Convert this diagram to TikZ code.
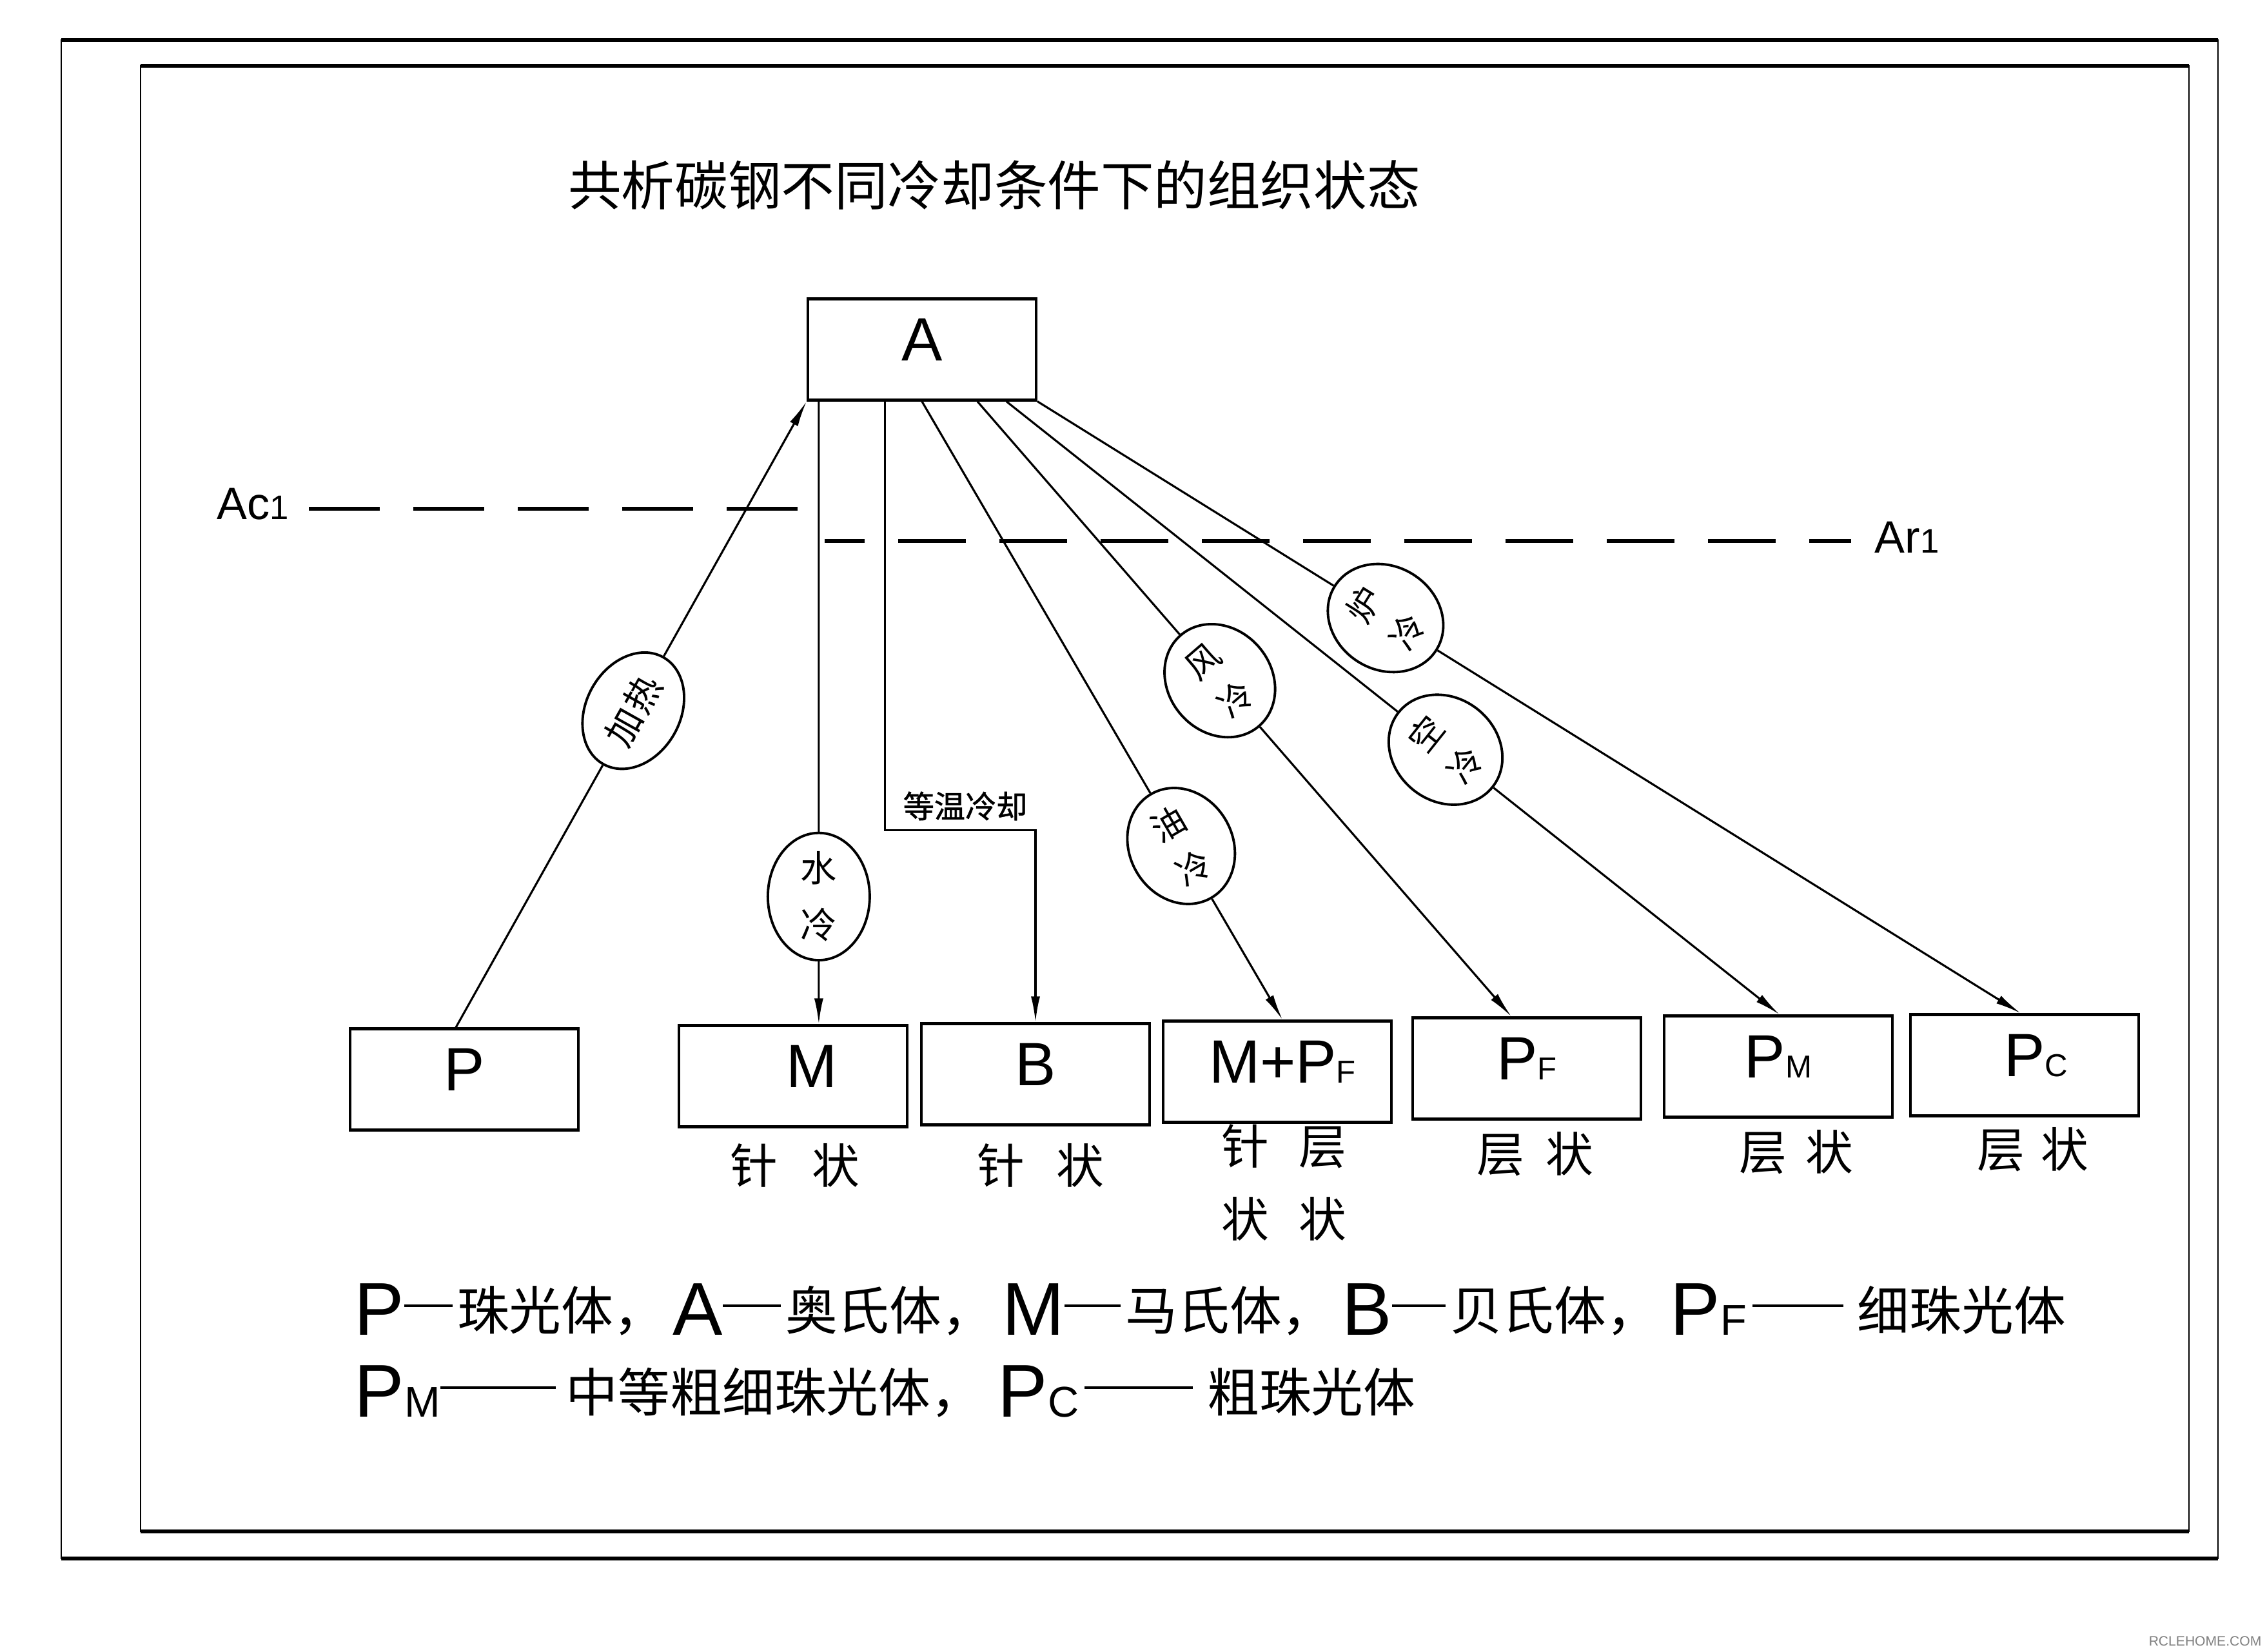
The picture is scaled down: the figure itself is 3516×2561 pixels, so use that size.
\documentclass[tikz,border=0pt]{standalone}
\usepackage{fontspec}
\usepackage{graphicx}
\setmainfont{Liberation Sans}
\newfontfamily\cjk{Noto Sans CJK SC}
\newfontfamily\cjkb[FakeBold=1.2]{Noto Sans CJK SC}
\usetikzlibrary{shapes.geometric,arrows.meta,calc}
\newcommand{\subsc}[1]{{\fontsize{14}{14}\selectfont #1}}
\newcommand{\lgL}{\fontsize{33}{36}\selectfont}
\newcommand{\lgC}{\cjk\fontsize{23}{26}\selectfont}
\newcommand{\lgS}{\fontsize{19}{20}\selectfont}
\newcommand{\rc}[1]{\rotatebox{90}{#1}}
\newcommand{\dsh}[1]{\rule[4.3mm]{#1}{0.4mm}}
\newcommand{\cj}[1]{\raisebox{0.8mm}{\lgC #1}}
\begin{document}
\begin{tikzpicture}[x=0.1mm,y=-0.1mm,
  box/.style={draw,line width=1.2pt,minimum width=35.4mm,minimum height=15.7mm,inner sep=0pt,text depth=3mm,font=\fontsize{27}{30}\selectfont},
  ln/.style={line width=0.9pt},
  arr/.style={ln,-{Latex[length=4mm,width=1.4mm]}},
  elp/.style={ellipse,draw,fill=white,line width=1.1pt,inner sep=0pt,font=\cjk\fontsize{16}{25}\selectfont},
  delp/.style={elp,minimum width=18.6mm,minimum height=16mm,font=\cjk\fontsize{15}{18}\selectfont},
  sublbl/.style={font=\cjk\fontsize{21}{24}\selectfont,inner sep=0pt},
  lgnd/.style={anchor=base west,inner sep=0pt},
  dashln/.style={line width=1.5pt}
]
\useasboundingbox (0,0) rectangle (3516,2561);
\fill[white] (0,0) rectangle (3516,2561);

% frames
\draw[line width=0.7pt] (95,62) rectangle (3440,2417);
\draw[line width=1.7pt] (95,62) -- (3440,62) (95,2417) -- (3440,2417);
\draw[line width=0.7pt] (218,102) rectangle (3395,2375);
\draw[line width=1.7pt] (218,102) -- (3395,102) (218,2375) -- (3395,2375);

% title
\node[font=\cjk\fontsize{23.5}{28}\selectfont] (title) at (1542,287) {共析碳钢不同冷却条件下的组织状态};

% boxes
\node[box] (A) at (1430,542) {A};
\node[box] (P) at (720,1674) {P};
\node[box] (M) at (1230,1669) {\hspace{5.8mm}M};
\node[box] (B) at (1606,1666) {B};
\node[box] (MPF) at (1981,1662) {\hspace{1.6mm}M+P\subsc{F}};
\node[box] (PF) at (2368,1657) {P\subsc{F}\hspace{2.6mm}};
\node[box] (PM) at (2758,1654) {P\subsc{M}};
\node[box] (PC) at (3140,1652) {\hspace{3.6mm}P\subsc{C}};

% critical temperature lines
\node[lgnd] (lAc) at (336,805) {\fontsize{20}{22}\selectfont Ac\fontsize{15}{16}\selectfont 1};
\node[lgnd] (lAr) at (2907,857) {\fontsize{20}{22}\selectfont Ar\fontsize{15}{16}\selectfont 1};
\coordinate (ac1a) at (479,789);
\coordinate (ac1b) at (1243,789);
\coordinate (ar1a) at (1279,839);
\coordinate (ar1b) at (2871,839);
\draw[dashln,dash pattern=on 11mm off 5.2mm] (ac1a) -- (ac1b);
\draw[dashln,dash pattern=on 10.5mm off 5.2mm,dash phase=4.3mm] (ar1a) -- (ar1b);

% start / end points
\coordinate (aJR) at (A.south west);
\coordinate (aSL) at ($(A.south west)+(19,0)$);
\coordinate (aDW) at ($(A.south west)+(122,0)$);
\coordinate (aYou) at ($(A.south west)+(179,0)$);
\coordinate (aFeng) at ($(A.south west)+(265,0)$);
\coordinate (aKong) at ($(A.south west)+(310,0)$);
\coordinate (aLu) at (A.south east);
\coordinate (pJR) at ($(P.north)+(-13,0)$);
\coordinate (tM) at (M.north -| aSL);
\coordinate (tMPF) at ($(MPF.north)+(8,0)$);
\coordinate (tPF) at ($(PF.north)+(-24,0)$);
\coordinate (tPM) at ($(PM.north)+(2,0)$);
\coordinate (tPC) at ($(PC.north)+(-6,0)$);

% ellipses
\node[elp,minimum width=19mm,minimum height=14.6mm,rotate=60.7] (eJR) at ($(pJR)!0.506!(aJR)$) {加\hspace{0.3mm}热};
\node[elp,minimum width=15.8mm,minimum height=18.6mm,align=center] (eSL) at ($(aSL)!0.795!(tM)$) {水\\冷};
\node[delp,rotate=-59.95] (eYou) at ($(aYou)!0.719!(tMPF)$) {\rc{油}\hspace{3mm}\rc{冷}};
\node[delp,rotate=-49.23] (eFeng) at ($(aFeng)!0.454!(tPF)$) {\rc{风}\hspace{3mm}\rc{冷}};
\node[delp,rotate=-38.58] (eKong) at ($(aKong)!0.568!(tPM)$) {\rc{空}\hspace{3mm}\rc{冷}};
\node[delp,rotate=-31.97] (eLu) at ($(aLu)!0.354!(tPC)$) {\rc{炉}\hspace{3mm}\rc{冷}};

% connectors
\draw[ln] (pJR) -- (eJR);
\draw[arr] (eJR) -- (aJR);
\draw[ln] (aSL) -- (eSL);
\draw[arr] (eSL) -- (tM);
\draw[arr] (aDW) |- ($(B.north)+(0,-298)$) -- (B.north);
\draw[ln] (aYou) -- (eYou);
\draw[arr] (eYou) -- (tMPF);
\draw[ln] (aFeng) -- (eFeng);
\draw[arr] (eFeng) -- (tPF);
\draw[ln] (aKong) -- (eKong);
\draw[arr] (eKong) -- (tPM);
\draw[ln] (aLu) -- (eLu);
\draw[arr] (eLu) -- (tPC);

\node[font=\cjkb\fontsize{13.7}{16}\selectfont,inner sep=0pt] (dwl) at (1497,1250) {等温冷却};

% sub labels
\node[sublbl] (sM) at (1233,1807) {针\hspace{5.3mm}状};
\node[sublbl] (sB) at (1614,1807) {针\hspace{4.9mm}状};
\node[sublbl] (sMPFa) at (1991,1778) {针\hspace{4.6mm}层};
\node[sublbl] (sMPFb) at (1991,1890) {状\hspace{4.6mm}状};
\node[sublbl] (sPF) at (2381,1790) {层\hspace{3.4mm}状};
\node[sublbl] (sPM) at (2786,1787) {层\hspace{2.9mm}状};
\node[sublbl] (sPC) at (3153,1783) {层\hspace{2.5mm}状};

% legend
\node[lgnd] (lg1) at (549,2070) {{\lgL P}\dsh{7.5mm}\hspace{0.7mm}\cj{珠光体，}};
\node[lgnd] (lg2) at (1043,2070) {{\lgL A}\dsh{9mm}\hspace{0.7mm}\cj{奥氏体，}};
\node[lgnd] (lg3) at (1554,2070) {{\lgL M}\dsh{8.7mm}\hspace{0.7mm}\cj{马氏体，}};
\node[lgnd] (lg4) at (2081,2070) {{\lgL B}\dsh{8.3mm}\hspace{0.7mm}\cj{贝氏体，}};
\node[lgnd] (lg5) at (2590,2070) {{\lgL P}{\lgS F}\hspace{0.9mm}\dsh{14.1mm}\hspace{2.2mm}\cj{细珠光体}};
\node[lgnd] (lg6) at (549,2197) {{\lgL P}{\lgS M}\dsh{17.9mm}\hspace{1.6mm}\cj{中等粗细珠光体，}};
\node[lgnd] (lg7) at (1547,2197) {{\lgL P}{\lgS C}\hspace{0.9mm}\dsh{16.8mm}\hspace{2.2mm}\cj{粗珠光体}};

\node[font=\fontsize{6}{7}\selectfont,text=gray,inner sep=0pt] (wm) at (3420,2545) {RCLEHOME.COM};
\end{tikzpicture}
\end{document}
